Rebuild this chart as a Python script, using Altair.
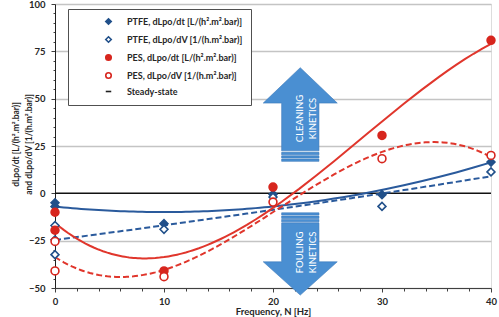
import altair as alt
import pandas as pd

# ---------------- data ----------------
series_names = [
    "PTFE, dLpo/dt [L/(h².m².bar)]",
    "PTFE, dLpo/dV [1/(h.m².bar)]",
    "PES, dLpo/dt [L/(h².m².bar)]",
    "PES, dLpo/dV [1/(h.m².bar)]",
    "Steady-state",
]

ptfe_dt_x = [0, 0, 10, 20, 30, 40]
ptfe_dt_y = [-5, -7, -16, -0.5, -0.7, 16.5]

ptfe_dv_x = [0, 0, 0, 10, 20, 30, 40]
ptfe_dv_y = [-17, -24.5, -32.4, -19, -2, -6.9, 11.3]

pes_dt_x = [0, 0, 10, 20, 30, 40]
pes_dt_y = [-10, -19.5, -41, 3.3, 30.6, 80.8]

pes_dv_x = [0, 0, 10, 20, 30, 40]
pes_dv_y = [-25.4, -41, -44, -4.6, 18.3, 20]

trend_orders = [2, 2, 3, 3]

# annotation arrows (centre position in data units) and their labels
arrow_x = [22.5, 22.5]
arrow_y = [41.6, -32.1]
arrow_kind = ["up", "down"]
arrow_text = ["CLEANING\nKINETICS", "FOULING\nKINETICS"]
arrow_text_y = [39.5, -31.2]

# ---------------- styling ----------------
BLUE = "#21508a"
RED = "#d7261e"
BLUE_LINE = "#2a5a9c"
RED_LINE = "#e0362c"
FONT = "Lato"
NBSP = "\u00a0" * 9

rows = []
for name, xs, ys in [
    (series_names[0], ptfe_dt_x, ptfe_dt_y),
    (series_names[1], ptfe_dv_x, ptfe_dv_y),
    (series_names[2], pes_dt_x, pes_dt_y),
    (series_names[3], pes_dv_x, pes_dv_y),
]:
    for xv, yv in zip(xs, ys):
        rows.append({"series": name, "x": xv, "y": yv})
df = pd.DataFrame(rows)

x_scale = alt.Scale(domain=[0, 40], nice=False)
y_scale = alt.Scale(domain=[-50, 100], nice=False)

x_axis = alt.Axis(
    values=list(range(0, 41, 2)),
    labelExpr="datum.value % 10 === 0 ? datum.label : ''",
    tickSize={"condition": {"test": "datum.value % 10 === 0", "value": 4}, "value": 3},
    grid=False,
    title="Frequency, N [Hz]",
    titleFont=FONT, titleFontSize=9.5, titleFontWeight="bold", titleColor="#262626",
    titlePadding=1,
    labelFont=FONT, labelFontSize=9.5, labelFontWeight="bold", labelColor="#262626",
    labelPadding=4,
    domainColor="#404040", tickColor="#404040", labelFlush=False,
)
y_axis = alt.Axis(
    values=list(range(-50, 101, 5)),
    labelExpr="datum.value % 25 === 0 ? datum.label : ''",
    tickSize={"condition": {"test": "datum.value % 25 === 0", "value": 4}, "value": 2},
    grid=True,
    gridColor="#c4c4c4",
    gridWidth=1.5,
    gridOpacity={"condition": {"test": "datum.value % 25 === 0 && datum.value !== 0", "value": 1}, "value": 0},
    title=["dLpo/dt [L/(h².m².bar)]", "and dLpo/dV [1/(h.m².bar)]"],
    titleFont=FONT, titleFontSize=8.5, titleFontWeight="bold", titleColor="#262626",
    titleAngle=270, titleBaseline="middle", titleX=-40, titleY=140, titleLineHeight=13,
    labelFont=FONT, labelFontSize=9.5, labelFontWeight="bold", labelColor="#262626",
    labelPadding=6, labelFlush=False,
    domainColor="#202020", tickColor="#404040",
)

legend = alt.Legend(
    title=None, orient="none", legendX=13, legendY=5,
    fillColor="white", strokeColor="#505050",
    padding=8, rowPadding=5, symbolOffset=28, labelOffset=14,
    labelFont=FONT, labelFontSize=9, labelFontWeight="bold", labelColor="#262626",
    symbolStrokeWidth=1.6,
    labelExpr="datum.label + '" + NBSP + "'",
)

color_scale = alt.Scale(domain=series_names, range=[BLUE, BLUE, RED, RED, "#202020"])
fill_scale = alt.Scale(domain=series_names, range=[BLUE, "white", RED, "white", "transparent"])
shape_scale = alt.Scale(domain=series_names, range=["diamond", "diamond", "circle", "circle", "stroke"])
size_scale = alt.Scale(domain=series_names, range=[30, 30, 36, 36, 200])

base = alt.Chart(df)

# steady state line (y = 0)
zero_rule = alt.Chart(pd.DataFrame({"y": [0]})).mark_rule(color="#111111", strokeWidth=1.5).encode(
    y=alt.Y("y:Q", scale=y_scale, axis=y_axis)
)

# trend lines
line_styles = [
    (series_names[0], BLUE_LINE, []),
    (series_names[1], BLUE_LINE, [6, 3]),
    (series_names[2], RED_LINE, []),
    (series_names[3], RED_LINE, [6, 3]),
]
lines = []
for (name, col, dash), order in zip(line_styles, trend_orders):
    mk = dict(color=col, strokeWidth=2)
    if dash:
        mk["strokeDash"] = dash
    lines.append(
        base.transform_filter(alt.datum.series == name)
        .transform_regression("x", "y", method="poly", order=order, extent=[0, 40])
        .mark_line(**mk)
        .encode(x=alt.X("x:Q", scale=x_scale, axis=x_axis), y=alt.Y("y:Q", scale=y_scale, axis=y_axis))
    )

points = base.mark_point(size=62, opacity=1, strokeWidth=1.6, filled=False).encode(
    x=alt.X("x:Q", scale=x_scale, axis=x_axis),
    y=alt.Y("y:Q", scale=y_scale, axis=y_axis),
    color=alt.Color("series:N", scale=color_scale, legend=legend),
    fill=alt.Fill("series:N", scale=fill_scale, legend=legend),
    shape=alt.Shape("series:N", scale=shape_scale, legend=legend),
)

legend_only = base.transform_filter("false").mark_point(opacity=1, strokeWidth=1.6, filled=False).encode(
    x=alt.X("x:Q", scale=x_scale, axis=x_axis),
    y=alt.Y("y:Q", scale=y_scale, axis=y_axis),
    color=alt.Color("series:N", scale=color_scale, legend=legend),
    fill=alt.Fill("series:N", scale=fill_scale, legend=legend),
    shape=alt.Shape("series:N", scale=shape_scale, legend=legend),
    size=alt.Size("series:N", scale=size_scale, legend=legend),
)

# arrows as custom symbols (unit box -1..1, size 10000 -> 100 px box)
UP_PATH = (
    "M0,-0.938 L0.74,-0.23 L0.374,-0.23 L0.374,0.726 L-0.372,0.726 L-0.372,-0.23 L-0.74,-0.23 Z "
    "M-0.372,0.756 L0.374,0.756 L0.374,0.806 L-0.372,0.806 Z "
    "M-0.372,0.826 L0.374,0.826 L0.374,0.87 L-0.372,0.87 Z "
    "M-0.372,0.89 L0.374,0.89 L0.374,0.936 L-0.372,0.936 Z"
)
DOWN_PATH = (
    "M-0.372,-0.826 L0.374,-0.826 L0.374,-0.78 L-0.372,-0.78 Z "
    "M-0.372,-0.76 L0.374,-0.76 L0.374,-0.714 L-0.372,-0.714 Z "
    "M-0.372,-0.694 L0.374,-0.694 L0.374,-0.646 L-0.372,-0.646 Z "
    "M-0.372,-0.626 L0.374,-0.626 L0.374,0.154 L0.74,0.154 L0,0.82 L-0.74,0.154 L-0.372,0.154 Z"
)
arrows_df = pd.DataFrame({"x": arrow_x, "y": arrow_y, "kind": arrow_kind,
                          "text": arrow_text, "ty": arrow_text_y})
arrow_layers = []
for kind, path in [("up", UP_PATH), ("down", DOWN_PATH)]:
    arrow_layers.append(
        alt.Chart(arrows_df).transform_filter(alt.datum.kind == kind)
        .mark_point(shape=path, size=10000, filled=True, fill="#4a8fd2", stroke="#3b79bb",
                    strokeWidth=0.6, opacity=1)
        .encode(x=alt.X("x:Q", scale=x_scale, axis=x_axis), y=alt.Y("y:Q", scale=y_scale, axis=y_axis))
    )
arrow_text_layer = alt.Chart(arrows_df).mark_text(
    angle=270, lineBreak="\n", color="white", font=FONT, fontSize=9.5, lineHeight=13,
    align="center", baseline="middle",
).encode(
    x=alt.X("x:Q", scale=x_scale, axis=x_axis),
    y=alt.Y("ty:Q", scale=y_scale, axis=y_axis),
    text="text:N",
)

chart = alt.layer(
    zero_rule, *arrow_layers, arrow_text_layer, *lines, points, legend_only
).properties(
    width=436, height=284,
    padding={"left": 55, "top": 4, "right": 8, "bottom": 29},
    autosize=alt.AutoSizeParams(type="none"),
).configure_view(stroke="#595959", strokeWidth=1).configure(background="white")

chart.save("out.html", embed_options={"renderer": "svg", "actions": False})
